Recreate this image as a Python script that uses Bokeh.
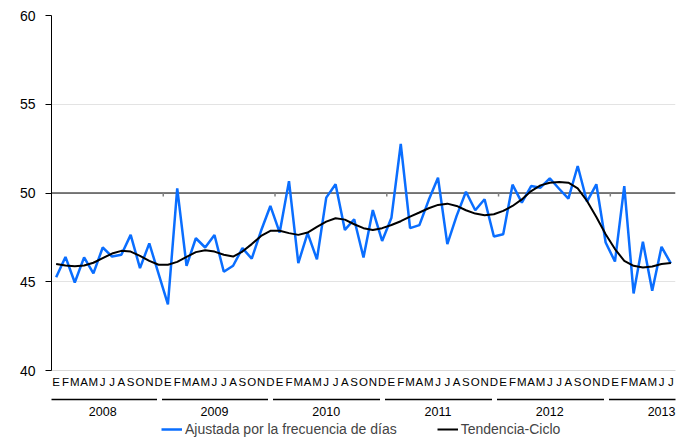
from bokeh.plotting import figure
from bokeh.layouts import column
from bokeh.models import Range1d, FixedTicker, LinearAxis, Span, Legend, LegendItem
from bokeh.embed import file_html
from bokeh.resources import INLINE

month_letters = ["E", "F", "M", "A", "M", "J", "J", "A", "S", "O", "N", "D"]
years = ["2008", "2009", "2010", "2011", "2012", "2013"]
months = month_letters * 5 + month_letters[:7]

ajustada = [
    45.25, 46.4, 44.96, 46.37, 45.47, 46.93, 46.42, 46.52, 47.64, 45.77, 47.16, 45.45,
    43.72, 50.26, 45.9, 47.45, 46.93, 47.63, 45.56, 45.9, 46.89, 46.3, 47.87, 49.27,
    47.77, 50.67, 46.05, 47.74, 46.26, 49.74, 50.49, 47.92, 48.52, 46.37, 49.04, 47.3,
    48.61, 52.76, 48.02, 48.19, 49.6, 50.86, 47.12, 48.71, 50.07, 49.03, 49.65, 47.55,
    47.68, 50.47, 49.46, 50.39, 50.3, 50.83, 50.24, 49.68, 51.52, 49.51, 50.49, 47.21,
    46.14, 50.39, 44.34, 47.25, 44.49, 46.97, 46.03,
]
tendencia = [
    46.0, 45.92, 45.88, 45.92, 46.07, 46.33, 46.59, 46.74, 46.7, 46.46, 46.18, 45.96,
    45.96, 46.12, 46.4, 46.67, 46.78, 46.7, 46.52, 46.42, 46.7, 47.12, 47.58, 47.87,
    47.87, 47.74, 47.64, 47.77, 48.09, 48.39, 48.58, 48.5, 48.24, 48.02, 47.92, 48.02,
    48.2, 48.41, 48.67, 48.9, 49.14, 49.33, 49.4, 49.27, 49.03, 48.84, 48.75, 48.8,
    48.99, 49.27, 49.64, 50.11, 50.43, 50.58, 50.62, 50.58, 50.26, 49.55, 48.65, 47.68,
    46.84, 46.18, 45.9, 45.8, 45.86, 46.0, 46.05,
]
y_ticks = [40, 45, 50, 55, 60]

x = list(range(len(ajustada)))
year_boundaries = [12 * k + 11.5 for k in range(5)]
year_gaps = [b - 0.45 for b in year_boundaries]
year_label_pos = [5, 17, 29, 41, 53, 65]

FONT = "Liberation Sans"
BLUE = "#0A6EFF"
W = 685

p = figure(width=W, height=418, output_backend="svg", toolbar_location=None,
           x_range=Range1d(-0.5, len(x) - 0.5), y_range=Range1d(40, 60),
           x_axis_location=None,
           min_border_left=51, min_border_right=W - 675, min_border_top=15, min_border_bottom=48)
p.outline_line_color = None
p.xgrid.visible = False
p.ygrid.ticker = FixedTicker(ticks=y_ticks)
p.ygrid.grid_line_color = "#E3E3E3"
p.background_fill_color = "white"

# Y axis
p.yaxis.ticker = FixedTicker(ticks=y_ticks)
p.yaxis.axis_line_color = "black"
p.yaxis.major_tick_line_color = "black"
p.yaxis.major_tick_out = 6
p.yaxis.major_tick_in = 0
p.yaxis.minor_tick_line_color = None
p.yaxis.major_label_standoff = 10
p.yaxis.major_label_text_font = FONT
p.yaxis.major_label_text_font_size = "14px"
p.yaxis.major_label_text_color = "black"

# reference line at 50
p.add_layout(Span(location=50, dimension="width", line_color="black", line_width=1.2, level="underlay"))

# small category ticks on the 50 line
p.segment(x0=year_boundaries, x1=year_boundaries, y0=[50] * 5, y1=[49.8] * 5,
          line_color="#808080", line_width=1.5)

r1 = p.line(x, ajustada, line_color=BLUE, line_width=2.5)
r2 = p.line(x, tendencia, line_color="black", line_width=2)

# month axis
ax_m = LinearAxis(ticker=FixedTicker(ticks=x),
                  major_label_overrides={i: m for i, m in enumerate(months)})
ax_m.axis_line_color = "#D9D9D9"
ax_m.major_tick_line_color = None
ax_m.major_tick_in = 0
ax_m.major_tick_out = 0
ax_m.minor_tick_line_color = None
ax_m.major_label_standoff = 5
ax_m.major_label_text_font = FONT
ax_m.major_label_text_font_size = "11.5px"
ax_m.major_label_text_color = "black"
ax_m.axis_label = " "
ax_m.axis_label_text_font_size = "6px"
ax_m.axis_label_standoff = 0
p.add_layout(ax_m, "below")

# year axis
ax_y = LinearAxis(ticker=FixedTicker(ticks=year_label_pos, minor_ticks=year_gaps),
                  major_label_overrides={pos: yr for pos, yr in zip(year_label_pos, years)})
ax_y.axis_line_color = "black"
ax_y.axis_line_width = 1.3
ax_y.major_tick_line_color = None
ax_y.major_tick_in = 0
ax_y.major_tick_out = 0
ax_y.minor_tick_line_color = "white"
ax_y.minor_tick_line_width = 5
ax_y.minor_tick_in = 2
ax_y.minor_tick_out = 2
ax_y.major_label_standoff = 5
ax_y.major_label_text_font = FONT
ax_y.major_label_text_font_size = "12.5px"
ax_y.major_label_text_color = "black"
p.add_layout(ax_y, "below")

# legend strip (series drawn out of view; only the legend shows)
lf = figure(width=W, height=19, output_backend="svg", toolbar_location=None,
            x_range=Range1d(0, 1), y_range=Range1d(0, 1),
            x_axis_location=None, y_axis_location=None,
            min_border_left=0, min_border_right=0, min_border_top=0, min_border_bottom=0)
lf.outline_line_color = None
lf.grid.visible = False
l1 = lf.line(x, ajustada, line_color=BLUE, line_width=2.5)
l2 = lf.line(x, tendencia, line_color="black", line_width=2)
legend = Legend(items=[LegendItem(label="Ajustada por la frecuencia de días", renderers=[l1]),
                       LegendItem(label="Tendencia-Ciclo", renderers=[l2])],
                orientation="horizontal", location=(110, 0),
                border_line_color=None, background_fill_alpha=0,
                label_text_font=FONT, label_text_font_size="14px",
                glyph_width=21, glyph_height=12, label_standoff=3,
                spacing=40, padding=1, margin=0)
lf.add_layout(legend, "center")

layout = column(p, lf, spacing=0)
open("out.html", "w").write(file_html(layout, INLINE))
